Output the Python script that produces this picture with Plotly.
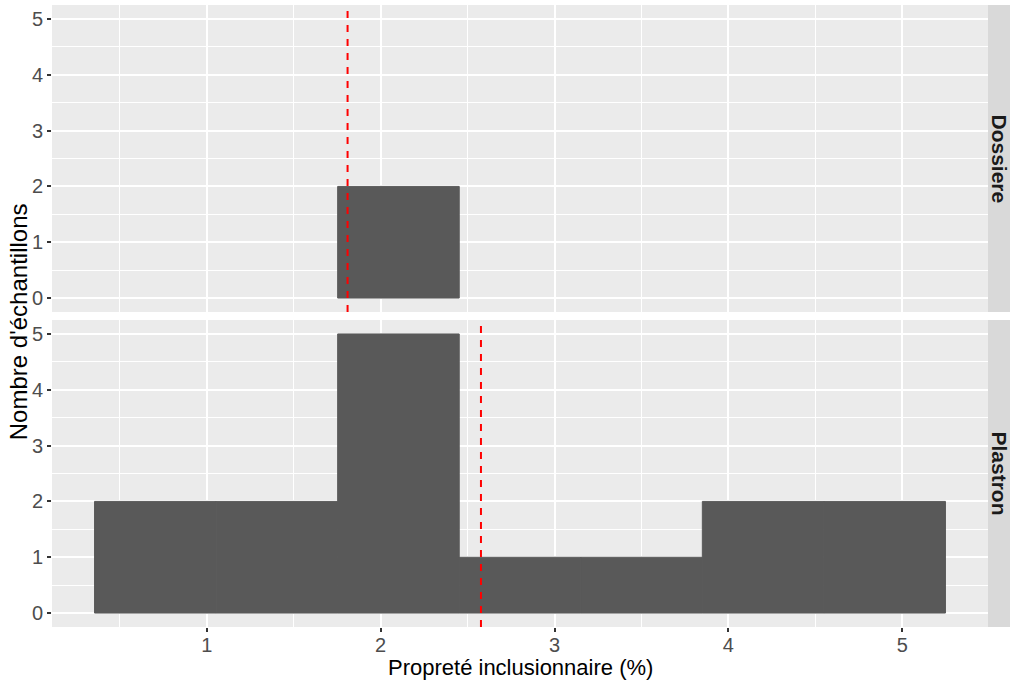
import numpy as np
import plotly.graph_objects as go

# ---- data ----
bin_edges = [0.355, 1.054, 1.753, 2.452, 3.151, 3.850, 4.549, 5.248]
panels = ["Dossiere", "Plastron"]
dossiere_counts = [0, 0, 2, 0, 0, 0, 0]
plastron_counts = [2, 2, 5, 1, 1, 2, 2]
panel_means = [1.81, 2.577]
x_ticks = [1, 2, 3, 4, 5]
y_ticks = [0, 1, 2, 3, 4, 5]
x_title = "Propreté inclusionnaire (%)"
y_title = "Nombre d'échantillons"

edges = np.array(bin_edges)
centers = (edges[:-1] + edges[1:]) / 2
widths = np.diff(edges)

W, H = 1010, 681
ml, mr, mt, mb = 52, 22, 5, 54
pw = W - ml - mr
ph = H - mt - mb
gap = 8
panel_h = (ph - gap) / 2

BAR = "#595959"
PANEL_BG = "#EBEBEB"
STRIP_BG = "#D9D9D9"
FONT = "Liberation Sans, Arial, sans-serif"

fig = go.Figure()


def bar_trace(counts, xa, ya):
    lw = [1 if c > 0 else 0 for c in counts]
    return go.Bar(x=centers, y=counts, width=widths,
                  marker=dict(color=BAR, line=dict(width=lw, color=BAR)),
                  xaxis=xa, yaxis=ya, showlegend=False, hoverinfo="x+y")


# top panel (Dossiere) uses x2/y2, bottom panel (Plastron) uses x/y
fig.add_trace(bar_trace(dossiere_counts, "x2", "y2"))
fig.add_trace(bar_trace(plastron_counts, "x", "y"))

span = edges[-1] - edges[0]
xr = [edges[0] - 0.05 * span, edges[-1] + 0.05 * span]
ymax = max(max(dossiere_counts), max(plastron_counts))
yr = [-0.05 * ymax, ymax * 1.05]

bottom_dom = [0, panel_h / ph]
top_dom = [(panel_h + gap) / ph, 1]

axis_common = dict(
    range=xr, showgrid=True, gridcolor="white", gridwidth=1.8,
    zeroline=False, showline=False, automargin=False,
    minor=dict(dtick=0.5, showgrid=True, gridcolor="white", gridwidth=0.8, ticks=""),
)
yaxis_common = dict(
    range=yr, tickmode="array", tickvals=y_ticks, ticktext=[str(v) for v in y_ticks],
    showgrid=True, gridcolor="white", gridwidth=1.8, zeroline=False, automargin=False,
    minor=dict(dtick=0.5, showgrid=True, gridcolor="white", gridwidth=0.8, ticks=""),
    ticks="outside", ticklen=4, tickwidth=1.5, tickcolor="#333333",
    tickfont=dict(size=20, color="#4D4D4D"),
)

fig.update_layout(
    width=W, height=H,
    margin=dict(l=ml, r=mr, t=mt, b=mb),
    paper_bgcolor="white", plot_bgcolor=PANEL_BG,
    font=dict(family=FONT, color="#4D4D4D", size=18),
    barmode="overlay",
    xaxis=dict(**axis_common, domain=[0, 1], anchor="y",
               tickmode="array", tickvals=x_ticks, ticktext=[str(v) for v in x_ticks],
               ticks="outside", ticklen=4, tickwidth=1.5, tickcolor="#333333",
               ticklabelstandoff=-4,
               tickfont=dict(size=20, color="#4D4D4D")),
    xaxis2=dict(**axis_common, domain=[0, 1], anchor="y2", matches="x",
                tickmode="array", tickvals=x_ticks, showticklabels=False, ticks=""),
    yaxis=dict(**yaxis_common, domain=bottom_dom, anchor="x"),
    yaxis2=dict(**yaxis_common, domain=top_dom, anchor="x2"),
)

# mean lines
for xa, ya, m in [("x2", "y2 domain", panel_means[0]), ("x", "y domain", panel_means[1])]:
    fig.add_shape(type="line", xref=xa, yref=ya, x0=m, x1=m, y0=0, y1=1,
                  line=dict(color="#FF0000", width=2, dash="7px,7px"), layer="above")

# facet strips
sx0 = 1.0
sx1 = 1.0 + (mr + 4) / pw
for label, dom in zip(panels, [top_dom, bottom_dom]):
    fig.add_shape(type="rect", xref="paper", yref="paper", x0=sx0, x1=sx1,
                  y0=dom[0], y1=dom[1], fillcolor=STRIP_BG, line=dict(width=0), layer="below")
    fig.add_annotation(text="<b>%s</b>" % label, xref="paper", yref="paper",
                       x=1.0 + 11 / pw, y=(dom[0] + dom[1]) / 2, textangle=90,
                       showarrow=False, xanchor="center", yanchor="middle",
                       font=dict(family=FONT, size=21, color="#1A1A1A"))

# axis titles
fig.add_annotation(text=x_title, xref="paper", yref="paper", x=0.5, y=-(667 - (H - mb)) / ph,
                   showarrow=False, xanchor="center", yanchor="middle",
                   font=dict(family=FONT, size=22, color="black"))
fig.add_annotation(text=y_title, xref="paper", yref="paper", x=(18 - ml) / pw, y=0.49,
                   textangle=-90, showarrow=False, xanchor="center", yanchor="middle",
                   font=dict(family=FONT, size=24, color="black"))

fig.write_html("out.html", config={"displayModeBar": False},
               post_script="document.body.style.margin='0';document.body.style.overflow='hidden';")
